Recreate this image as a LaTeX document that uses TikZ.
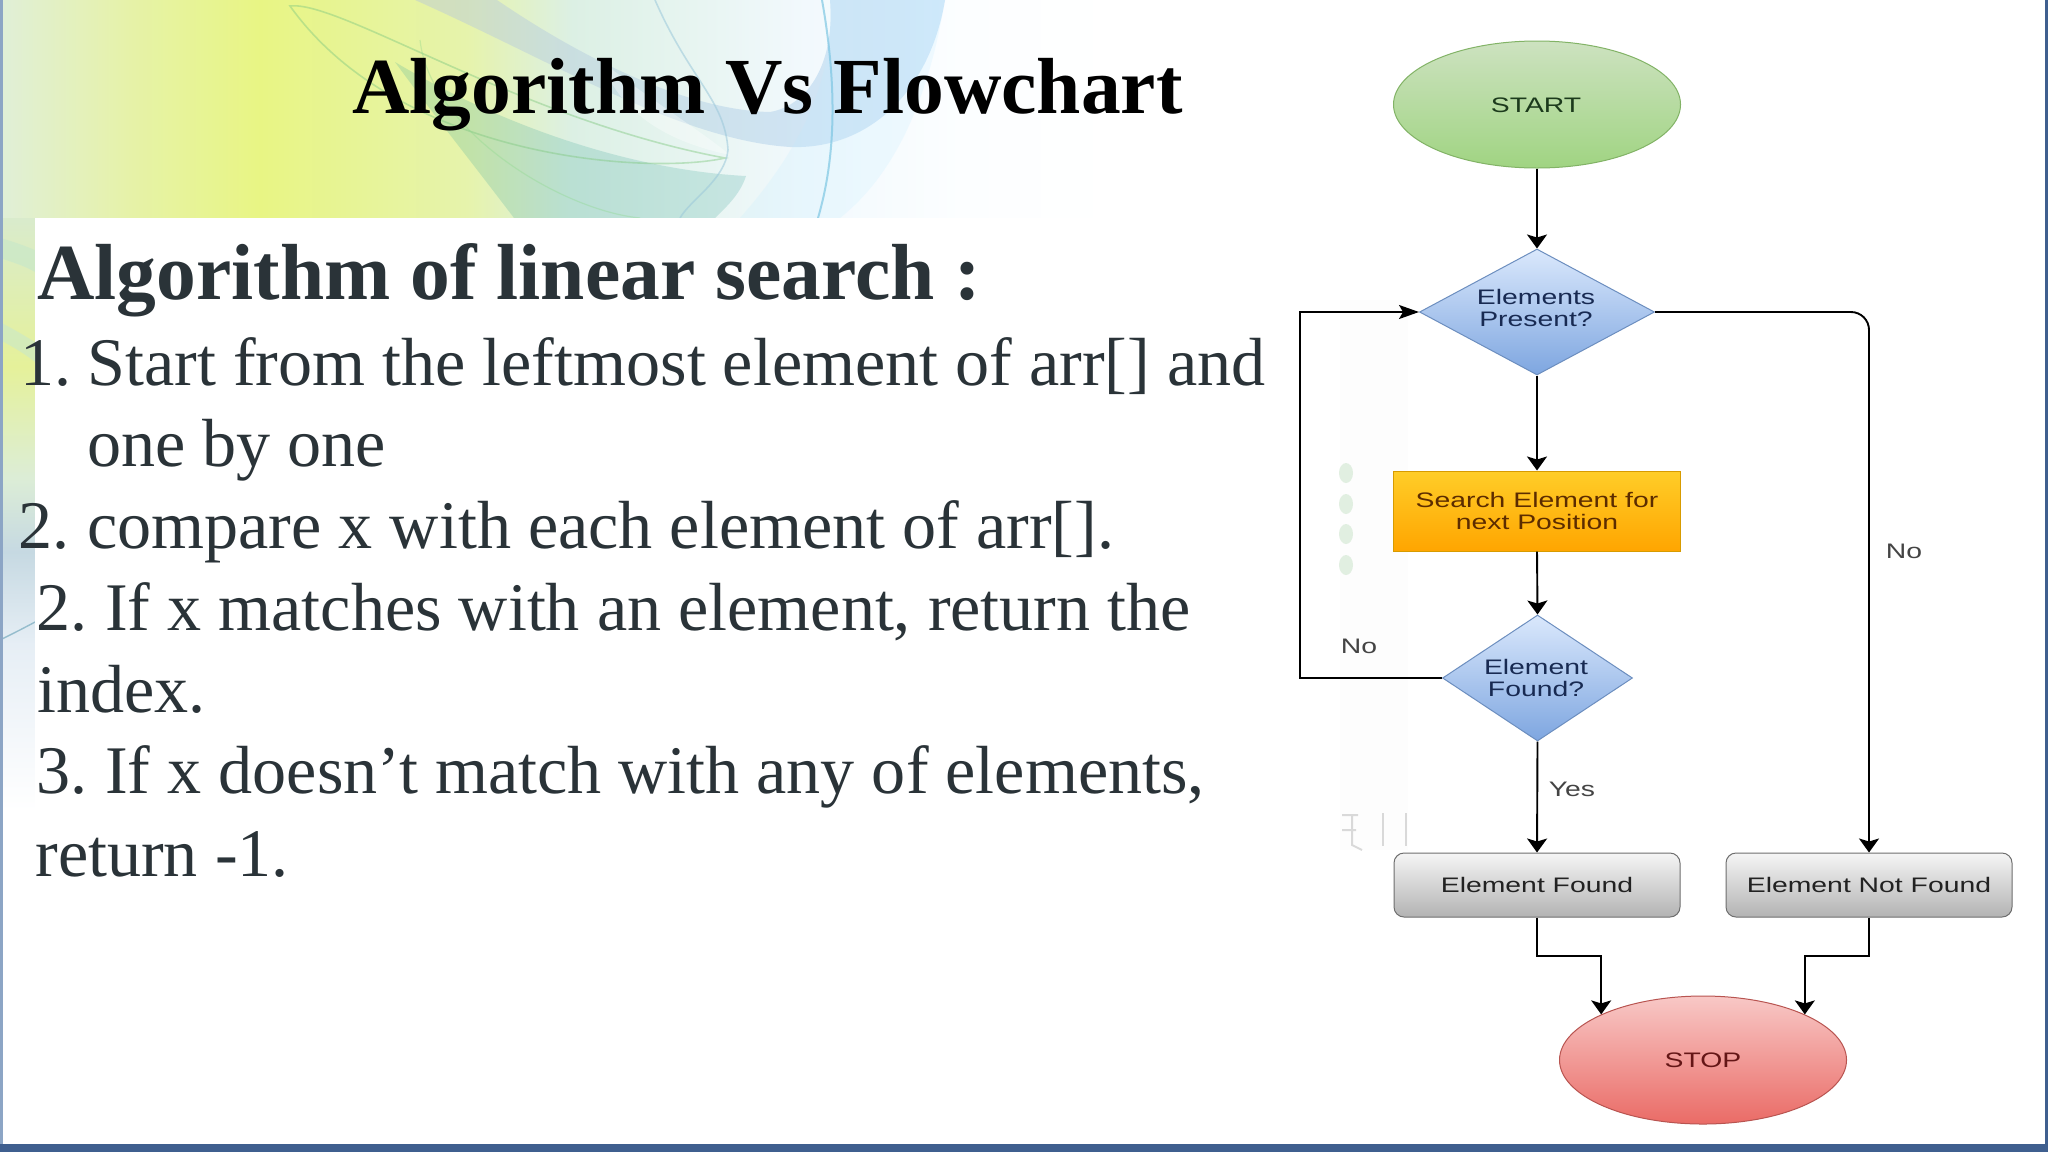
\documentclass[tikz,border=0pt]{standalone}
\usepackage{fontspec}
\usetikzlibrary{shapes.geometric,arrows.meta}
\setmainfont{Liberation Serif}
\newfontfamily\fcfont[FakeStretch=1.35]{Liberation Sans}
\definecolor{bodyink}{HTML}{2A3338}
\definecolor{frameblue}{HTML}{3F5F8F}
\definecolor{frameleft}{HTML}{8CA5C5}
\definecolor{decideink}{HTML}{182A52}
\definecolor{sA}{HTML}{E0EFD8}\definecolor{sB}{HTML}{E6F2A8}\definecolor{sC}{HTML}{E8F584}
\definecolor{sD}{HTML}{E6F3AC}\definecolor{sE}{HTML}{DCF0E4}\definecolor{sF}{HTML}{E8F5F2}
\definecolor{sG}{HTML}{F2F9FD}\definecolor{sH}{HTML}{FCFEFF}
\definecolor{lA}{HTML}{D9EBCC}\definecolor{lB}{HTML}{E5F19A}\definecolor{lC}{HTML}{DCEDD6}
\definecolor{lD}{HTML}{C6D9E2}\definecolor{lE}{HTML}{E6EEF5}
\pgfdeclarehorizontalshading{bgtop}{100bp}{color(0bp)=(sA); color(25bp)=(sA); color(30bp)=(sB); color(35bp)=(sC); color(43bp)=(sD); color(47bp)=(sE); color(52bp)=(sF); color(56bp)=(sG); color(62bp)=(sH); color(68bp)=(white); color(100bp)=(white)}
\pgfdeclareverticalshading{bgleft}{100bp}{color(0bp)=(white); color(25bp)=(white); color(43bp)=(white); color(52bp)=(lE); color(57bp)=(lD); color(61bp)=(lC); color(67bp)=(lB); color(75bp)=(lA); color(100bp)=(lA)}
\tikzset{
  x=0.5pt,y=-0.5pt,
  slidetitle/.style={anchor=base west,inner sep=0pt,font=\fontsize{39.75}{48}\selectfont\bfseries,text=black},
  headline/.style={anchor=base west,inner sep=0pt,font=\fontsize{39.75}{48}\selectfont\bfseries,text=bodyink},
  bodyline/.style={anchor=base west,inner sep=0pt,font=\fontsize{34.05}{40}\selectfont,text=bodyink},
  fctext/.style={font=\fontsize{10.5}{11}\selectfont\fcfont,align=center,inner sep=0pt},
  startnode/.style={ellipse,fctext,minimum width=143.5pt,minimum height=63.5pt,draw={rgb,255:red,130;green,179;blue,102},line width=.5pt,
    top color={rgb,255:red,205;green,226;blue,192},bottom color={rgb,255:red,160;green,212;blue,130},text={rgb,255:red,28;green,58;blue,28}},
  stopnode/.style={ellipse,fctext,minimum width=143.5pt,minimum height=64pt,draw={rgb,255:red,184;green,84;blue,80},line width=.5pt,top color={rgb,255:red,248;green,200;blue,198},bottom color={rgb,255:red,234;green,107;blue,102},text={rgb,255:red,100;green,22;blue,22}},
  decide/.style={diamond,fctext,draw={rgb,255:red,108;green,142;blue,191},line width=.5pt,top color={rgb,255:red,218;green,232;blue,252},bottom color={rgb,255:red,126;green,166;blue,224},text=decideink},
  decidetext/.style={fctext,text=decideink},
  procbox/.style={rectangle,fctext,minimum width=143.5pt,minimum height=40pt,draw={rgb,255:red,215;green,155;blue,0},line width=.5pt,top color={rgb,255:red,255;green,205;blue,40},bottom color={rgb,255:red,255;green,165;blue,0},text={rgb,255:red,92;green,44;blue,0}},
  resultbox/.style={rectangle,rounded corners=5pt,fctext,minimum width=143pt,minimum height=32pt,draw={rgb,255:red,110;green,110;blue,110},line width=.5pt,top color={rgb,255:red,245;green,245;blue,245},bottom color={rgb,255:red,179;green,179;blue,179},text={rgb,255:red,34;green,34;blue,34}},
  edgelabel/.style={fctext,text={rgb,255:red,68;green,68;blue,68}},
  flowdown/.style={draw=black,line width=.95pt,-{Stealth[length=7pt,width=10pt,inset=1.5pt]}},
  flowside/.style={draw=black,line width=.8pt,-{Stealth[length=10pt,width=7pt,inset=2pt]}},
}
\begin{document}
\begin{tikzpicture}
\useasboundingbox (0,0) rectangle (2048,1152);
\fill[white] (0,0) rectangle (2048,1152);
% slide background
\shade[shading=bgtop] (0,0) rectangle (1300,218);
\shade[shading=bgleft] (0,218) rectangle (35,1145);
\shade[left color={rgb,255:red,190;green,205;blue,212},right color={rgb,255:red,170;green,210;blue,245},opacity=.5]
  (415,0) .. controls (550,60) and (680,140) .. (790,147) .. controls (870,150) and (930,90) .. (945,0) -- (830,0) .. controls (835,60) and (810,105) .. (770,112) .. controls (680,110) and (570,50) .. (497,0) -- cycle;
\fill[cyan!50!green!70!gray,opacity=.22] (395,62) .. controls (500,125) and (630,170) .. (746,176) .. controls (740,195) and (725,208) .. (715,218) -- (514,218) .. controls (470,160) and (430,110) .. (395,62) -- cycle;
\fill[white,opacity=.35] (600,60) .. controls (650,100) and (700,130) .. (730,155) .. controls (660,140) and (620,110) .. (600,60) -- cycle;
\fill[blue!30!cyan!25,opacity=.2] (830,0) -- (945,0) .. controls (930,90) and (900,170) .. (840,218) -- (740,218) .. controls (800,150) and (835,80) .. (830,0) -- cycle;
\draw[gray!60!green!70,opacity=.45,line width=.8pt] (290,6) .. controls (340,0) and (520,120) .. (725,158) .. controls (650,175) and (400,160) .. (290,6) -- cycle;
\draw[gray!50!green!60,opacity=.35,line width=.6pt] (420,40) .. controls (430,130) and (560,210) .. (640,218);
\draw[cyan!50!gray!60,opacity=.55,line width=.8pt] (655,0) .. controls (690,80) and (725,100) .. (728,150) .. controls (725,180) and (690,200) .. (680,218);
\draw[cyan!70!gray!70,opacity=.65,line width=1pt] (822,0) .. controls (838,90) and (835,160) .. (818,218);
% left strip details
\fill[gray!60!green!30,opacity=.7] (0,238) .. controls (15,242) and (25,246) .. (35,250) -- (35,272) .. controls (25,266) and (12,262) .. (0,258) -- cycle;
\fill[gray!60!green!30,opacity=.6] (0,322) .. controls (15,330) and (25,336) .. (35,342) -- (35,362) .. controls (25,354) and (12,346) .. (0,340) -- cycle;
\draw[cyan!40!gray!70,line width=.7pt] (0,640) .. controls (12,634) and (24,628) .. (35,622);
% slide frame
\fill[white] (35,218) rectangle (1100,1145);
\fill[frameleft] (0,0) rectangle (3,1145);
\fill[frameblue] (0,1144) rectangle (2048,1152);
\fill[frameblue] (2045,0) rectangle (2048,1152);
% faint residue beside the flowchart
\fill[gray!1.5] (1340,300) rectangle (1408,850);
\foreach \yy in {473,504,534,565}{\fill[green!30!gray!18] (1346,\yy) ellipse [x radius=3.5pt,y radius=5pt];}
\draw[gray!30,line width=1pt] (1342,815) -- (1358,815) (1342,830) -- (1356,830) (1352,815) -- (1352,845) -- (1362,850);
\draw[gray!30,line width=1.4pt] (1383,813) -- (1383,846) (1406,813) -- (1406,846);
% texts
\node[slidetitle] (title) at (352,113) {Algorithm Vs Flowchart};
\node[headline] (head) at (37,299) {Algorithm of linear search :};
\node[bodyline] (n1) at (20,385) {1.};
\node[bodyline] (l1) at (87,385) {Start from the leftmost element of arr[] and};
\node[bodyline] (l1b) at (87,466) {one by one};
\node[bodyline] (n2) at (18,548) {2.};
\node[bodyline] (l2) at (87,548) {compare x with each element of arr[].};
\node[bodyline] (l3) at (36,630) {2.\kern-2.4pt{} If x matches with an element, return the};
\node[bodyline] (l3b) at (37,712) {index.};
\node[bodyline] (l4) at (36,793) {3.\kern-2.4pt{} If x doesn’t match with any of elements,};
\node[bodyline] (l4b) at (35,876) {return -1.};
% flowchart
\node[startnode] (start) at (1537,104.5) {};
\node[fctext,text={rgb,255:red,28;green,58;blue,28}] (starttext) at (1536,105.5) {START};
\node[decide,aspect=1.87,minimum width=117.5pt,minimum height=63pt] (present) at (1537,312) {};
\node[decidetext] (presenttext) at (1536,308) {Elements\\Present?};
\node[procbox] (search) at (1537,511) {Search Element for\\next Position};
\node[decide,aspect=1.5,minimum width=95pt,minimum height=63pt] (found) at (1537.5,678) {};
\node[decidetext] (foundtext) at (1536,678) {Element\\Found?};
\node[resultbox] (ef) at (1537,885) {Element Found};
\node[resultbox] (enf) at (1869,885) {Element Not Found};
\node[stopnode] (stop) at (1703,1060) {STOP};
\coordinate (lb) at (1300,678);
\coordinate (lt) at (1300,312);
\coordinate (jl) at (stop.north west |- 0,956);
\coordinate (jr) at (stop.north east |- 0,956);
\draw[flowdown] (start.south) -- (present.north);
\draw[flowdown] (present.south) -- (search.north);
\draw[flowdown] (search.south) -- (found.north);
\draw[flowdown] (found.south) -- (ef.north);
\draw[flowdown,rounded corners=9pt] (present.east) -| (enf.north);
\draw[flowside] (found.west) -- (lb) -- (lt) -- (present.west);
\draw[flowdown] (ef.south) |- (jl) -- (stop.north west);
\draw[flowdown] (enf.south) |- (jr) -- (stop.north east);
\node[edgelabel] (lno1) at (1904,551) {No};
\node[edgelabel] (lno2) at (1359,646) {No};
\node[edgelabel] (lyes) at (1572,789.5) {Yes};
\end{tikzpicture}
\end{document}
